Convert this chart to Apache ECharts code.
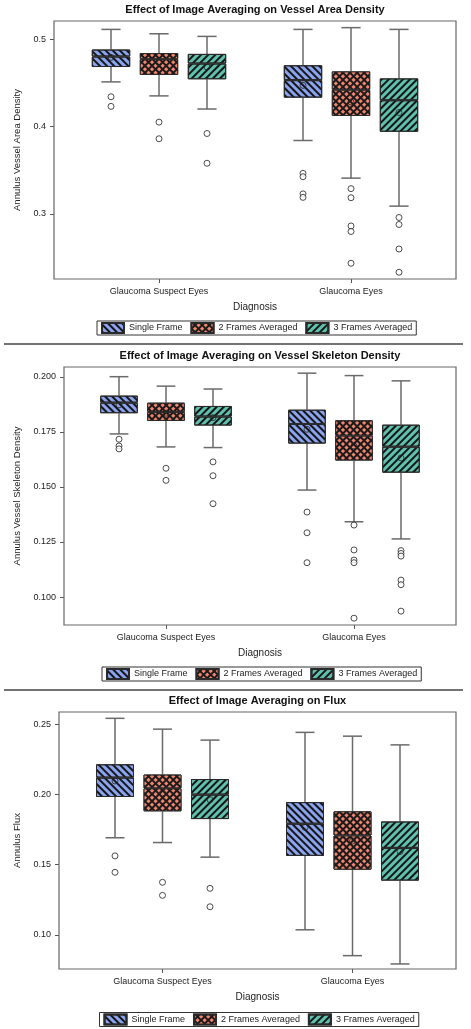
<!DOCTYPE html>
<html><head><meta charset="utf-8">
<script src="https://cdn.jsdelivr.net/npm/echarts@6/dist/echarts.min.js"></script>
<style>html,body{margin:0;padding:0;background:#fff}#c{width:471px;height:1029px}</style>
</head><body><div id="c"></div>
<script>
// ---------------- DATA ----------------
const groups = ['Glaucoma Suspect Eyes', 'Glaucoma Eyes'];
const seriesNames = ['Single Frame', '2 Frames Averaged', '3 Frames Averaged'];
const xAxisTitle = 'Diagnosis';

// Panel 1: vessel area density. Each box: [low whisker, Q1, median, Q3, high whisker], one per group
const areaTitle = 'Effect of Image Averaging on Vessel Area Density';
const areaYName = 'Annulus Vessel Area Density';
const areaTicks = [0.3, 0.4, 0.5];
const areaSingle = [[0.451, 0.468, 0.480, 0.488, 0.511], [0.384, 0.433, 0.453, 0.470, 0.511]];
const areaTwo    = [[0.435, 0.459, 0.477, 0.484, 0.506], [0.341, 0.412, 0.442, 0.463, 0.513]];
const areaThree  = [[0.420, 0.454, 0.472, 0.483, 0.503], [0.309, 0.394, 0.430, 0.455, 0.511]];
const areaMeans  = [[0.479, 0.447], [0.473, 0.428], [0.468, 0.416]];
const areaOutSingle = [[0.434, 0.423], [0.3465, 0.3426, 0.323, 0.319]];
const areaOutTwo    = [[0.405, 0.386], [0.329, 0.3186, 0.2863, 0.280, 0.2437]];
const areaOutThree  = [[0.392, 0.358], [0.296, 0.288, 0.260, 0.2334]];

// Panel 2: vessel skeleton density
const skelTitle = 'Effect of Image Averaging on Vessel Skeleton Density';
const skelYName = 'Annulus Vessel Skeleton Density';
const skelTicks = [0.100, 0.125, 0.150, 0.175, 0.200];
const skelSingle = [[0.1741, 0.1835, 0.1883, 0.1915, 0.2001], [0.1486, 0.1697, 0.1786, 0.1851, 0.2017]];
const skelTwo    = [[0.1682, 0.1800, 0.1841, 0.1883, 0.1958], [0.1342, 0.1620, 0.1733, 0.1803, 0.2006]];
const skelThree  = [[0.1679, 0.1779, 0.1820, 0.1868, 0.1945], [0.1264, 0.1565, 0.1683, 0.1783, 0.1982]];
const skelMeans  = [[0.1873, 0.1762], [0.1835, 0.1686], [0.1815, 0.1632]];
const skelOutSingle = [[0.1717, 0.1686, 0.1673], [0.1386, 0.1292, 0.1156]];
const skelOutTwo    = [[0.1585, 0.1530], [0.1327, 0.1214, 0.1168, 0.1156, 0.0904]];
const skelOutThree  = [[0.1614, 0.1551, 0.1424], [0.1211, 0.1198, 0.1186, 0.1077, 0.1056, 0.0936]];

// Panel 3: flux
const fluxTitle = 'Effect of Image Averaging on Flux';
const fluxYName = 'Annulus Flux';
const fluxTicks = [0.10, 0.15, 0.20, 0.25];
const fluxSingle = [[0.1691, 0.1981, 0.2119, 0.2214, 0.2541], [0.1036, 0.1562, 0.1791, 0.1945, 0.2441]];
const fluxTwo    = [[0.1657, 0.1879, 0.2043, 0.2141, 0.2464], [0.0852, 0.1464, 0.1707, 0.1879, 0.2414]];
const fluxThree  = [[0.1553, 0.1824, 0.1998, 0.2109, 0.2386], [0.0793, 0.1386, 0.1619, 0.1807, 0.2352]];
const fluxMeans  = [[0.2095, 0.1765], [0.2009, 0.1668], [0.1962, 0.1593]];
const fluxOutSingle = [[0.1562, 0.1445], []];
const fluxOutTwo    = [[0.1374, 0.1281], []];
const fluxOutThree  = [[0.1331, 0.1200], []];

// ---------------- STYLE / LAYOUT ----------------
const FONT = 'Liberation Sans, Arial, sans-serif';
const fills = ['#8aa3ee', '#f2846e', '#5fc0ad'];
const decals = [
  { symbol: 'rect', symbolSize: 1, color: '#151515', dashArrayX: [1, 0], dashArrayY: [1.3, 2.1], rotation: Math.PI / 4 },
  { symbol: 'rect', symbolSize: 1, color: '#f2846e', backgroundColor: '#1a1a1a', dashArrayX: [2.3, 1.1], dashArrayY: [2.3, 1.1], rotation: Math.PI / 4 },
  { symbol: 'rect', symbolSize: 1, color: '#151515', dashArrayX: [1, 0], dashArrayY: [1.3, 2.1], rotation: -Math.PI / 4 }
];

const panels = [
  { title: areaTitle, yName: areaYName, ticks: areaTicks, dec: 1,
    boxes: [areaSingle, areaTwo, areaThree], means: areaMeans, outs: [areaOutSingle, areaOutTwo, areaOutThree],
    L: 54, R: 456, T: 21, B: 279, slot: 48, yMin: 0.2257, yMax: 0.5206, titleY: 10, legendTop: 321, yGap: 31 },
  { title: skelTitle, yName: skelYName, ticks: skelTicks, dec: 3,
    boxes: [skelSingle, skelTwo, skelThree], means: skelMeans, outs: [skelOutSingle, skelOutTwo, skelOutThree],
    L: 64, R: 456, T: 367, B: 625, slot: 47, yMin: 0.0873, yMax: 0.2045, titleY: 356, legendTop: 667, yGap: 40 },
  { title: fluxTitle, yName: fluxYName, ticks: fluxTicks, dec: 2,
    boxes: [fluxSingle, fluxTwo, fluxThree], means: fluxMeans, outs: [fluxOutSingle, fluxOutTwo, fluxOutThree],
    L: 59, R: 456, T: 712, B: 969, slot: 47.5, yMin: 0.0757, yMax: 0.2586, titleY: 701, legendTop: 1012.5, yGap: 36 }
];

const NSLOT = groups.length * 4 - 1;
const slotOf = (g, s) => g * 4 + s;
const slotLabels = [];
for (let i = 0; i < NSLOT; i++) slotLabels.push('');
groups.forEach((g, gi) => { slotLabels[slotOf(gi, 1)] = g; });

const grid = [], xAxis = [], yAxis = [], series = [], legend = [], graphic = [];

panels.forEach((p, pi) => {
  const fw = p.R - p.L;
  const m = (fw - NSLOT * p.slot) / 2;
  grid.push({ left: p.L + m, top: p.T, width: fw - 2 * m, height: p.B - p.T });
  for (let s = 0; s < 3; s++) {
    const main = s === 0;
    xAxis.push({
      gridIndex: pi, type: 'category', data: slotLabels, show: main, boundaryGap: true,
      axisLine: { show: false },
      axisTick: { show: main, alignWithLabel: true, length: 4, interval: (i, v) => v !== '', lineStyle: { color: '#555', width: 1 } },
      axisLabel: { show: main, interval: (i, v) => v !== '', fontSize: 9, color: '#222', margin: 8, fontFamily: FONT },
      name: main ? xAxisTitle : '', nameLocation: 'middle', nameGap: 23,
      nameTextStyle: { fontSize: 10, color: '#222', fontFamily: FONT }
    });
  }
  yAxis.push({
    gridIndex: pi, type: 'value', min: p.yMin, max: p.yMax, offset: m,
    axisLine: { show: false }, splitLine: { show: false },
    axisTick: { show: true, length: 4, customValues: p.ticks, lineStyle: { color: '#555', width: 1 } },
    axisLabel: { customValues: p.ticks, formatter: v => v.toFixed(p.dec), fontSize: 9, color: '#222', margin: 8, fontFamily: FONT },
    name: p.yName, nameLocation: 'middle', nameGap: p.yGap,
    nameTextStyle: { fontSize: 9.5, color: '#222', fontFamily: FONT }
  });

  // whiskers (custom)
  const whiskerData = [];
  p.boxes.forEach((box, s) => box.forEach((b, g) => whiskerData.push([slotOf(g, s), b[0], b[1], b[3], b[4]])));
  series.push({
    type: 'custom', xAxisIndex: pi * 3, yAxisIndex: pi, z: 1, silent: true,
    encode: { x: 0, y: [1, 2, 3, 4] },
    data: whiskerData,
    renderItem: (params, api) => {
      const x = api.value(0);
      const lo = api.coord([x, api.value(1)]);
      const q1 = api.coord([x, api.value(2)]);
      const q3 = api.coord([x, api.value(3)]);
      const hi = api.coord([x, api.value(4)]);
      const half = api.size([1, 0])[0] * 0.2;
      const st = { stroke: '#6a6a6a', lineWidth: 1.5 };
      return { type: 'group', children: [
        { type: 'line', shape: { x1: lo[0], y1: lo[1], x2: q1[0], y2: q1[1] }, style: st },
        { type: 'line', shape: { x1: q3[0], y1: q3[1], x2: hi[0], y2: hi[1] }, style: st },
        { type: 'line', shape: { x1: lo[0] - half, y1: lo[1], x2: lo[0] + half, y2: lo[1] }, style: st },
        { type: 'line', shape: { x1: hi[0] - half, y1: hi[1], x2: hi[0] + half, y2: hi[1] }, style: st }
      ] };
    }
  });

  // boxes as stacked bars
  p.boxes.forEach((box, s) => {
    const base = slotLabels.map(() => '-'), lower = slotLabels.map(() => '-'), upper = slotLabels.map(() => '-');
    box.forEach((b, g) => {
      const k = slotOf(g, s);
      base[k] = b[1]; lower[k] = b[2] - b[1]; upper[k] = b[3] - b[2];
    });
    const stack = 'p' + pi + 's' + s;
    const boxStyle = { color: fills[s], decal: decals[s], borderColor: '#2a2a2a', borderWidth: 1 };
    series.push({ type: 'bar', name: 'base' + pi + s, xAxisIndex: pi * 3 + s, yAxisIndex: pi, stack, barWidth: '80%',
      data: base, itemStyle: { color: 'rgba(0,0,0,0)' }, silent: true, z: 2 });
    series.push({ type: 'bar', name: seriesNames[s], xAxisIndex: pi * 3 + s, yAxisIndex: pi, stack, barWidth: '80%',
      data: lower, itemStyle: boxStyle, z: 2 });
    series.push({ type: 'bar', name: seriesNames[s], xAxisIndex: pi * 3 + s, yAxisIndex: pi, stack, barWidth: '80%',
      data: upper, itemStyle: boxStyle, z: 2 });
  });

  // means
  const meanData = [];
  p.means.forEach((ms, s) => ms.forEach((v, g) => meanData.push([slotOf(g, s), v])));
  series.push({ type: 'scatter', name: 'mean' + pi, xAxisIndex: pi * 3, yAxisIndex: pi, z: 4, silent: true,
    symbol: 'circle', symbolSize: 6, data: meanData,
    itemStyle: { color: 'rgba(0,0,0,0)', borderColor: '#222', borderWidth: 1 } });
  // outliers
  const outData = [];
  p.outs.forEach((os, s) => os.forEach((list, g) => list.forEach(v => outData.push([slotOf(g, s), v]))));
  series.push({ type: 'scatter', name: 'outlier' + pi, xAxisIndex: pi * 3, yAxisIndex: pi, z: 4, silent: true,
    symbol: 'circle', symbolSize: 6, data: outData,
    itemStyle: { color: '#fff', borderColor: '#222', borderWidth: 1 } });

  legend.push({
    data: seriesNames, left: (p.L + p.R) / 2 - 158, top: p.legendTop, orient: 'horizontal',
    icon: 'rect', itemWidth: 22, itemHeight: 10, itemGap: 8, padding: [1, 4],
    borderColor: '#333', borderWidth: 1, selectedMode: false,
    textStyle: { fontSize: 9, color: '#222', fontFamily: FONT }
  });

  graphic.push({ type: 'rect', silent: true, z: 100,
    shape: { x: p.L, y: p.T, width: fw, height: p.B - p.T },
    style: { fill: 'none', stroke: '#666', lineWidth: 1.2 } });
  graphic.push({ type: 'text', silent: true, z: 100, x: (p.L + p.R) / 2, y: p.titleY,
    style: { text: p.title, fill: '#111', fontSize: 11, fontWeight: 'bold', fontFamily: FONT,
      align: 'center', verticalAlign: 'middle', textAlign: 'center', textVerticalAlign: 'middle' } });
});
[344, 690].forEach(y => graphic.push({ type: 'line', silent: true, z: 100,
  shape: { x1: 4, y1: y, x2: 463, y2: y }, style: { stroke: '#444', lineWidth: 1.3 } }));

const chart = echarts.init(document.getElementById('c'), null, { renderer: 'canvas' });
chart.setOption({
  animation: false,
  textStyle: { fontFamily: FONT },
  grid, xAxis, yAxis, series, legend, graphic
});
</script></body></html>
